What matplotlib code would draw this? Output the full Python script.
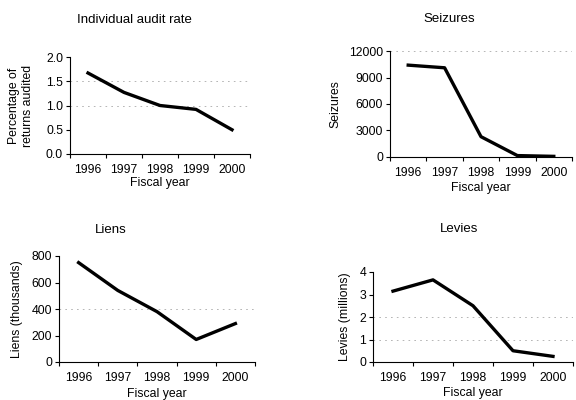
import matplotlib
matplotlib.use("Agg")
import matplotlib.pyplot as plt
import numpy as np

plt.rcParams['font.family'] = ['Liberation Sans', 'DejaVu Sans']

years = ["1996", "1997", "1998", "1999", "2000"]
audit_rate = [1.67, 1.27, 1.0, 0.92, 0.5]
seizures = [10400, 10100, 2300, 160, 74]
liens = [750, 540, 380, 170, 290]
levies = [3.15, 3.65, 2.5, 0.5, 0.25]


def draw_panel(fig, rect, values, yticks, ylabel, title, title_xy, ylabel_x,
               xlabel_y, grid_levels, ytick_fmt):
    ax = fig.add_axes(rect)
    x = np.arange(len(years))
    ax.plot(x, values, color='black', lw=2.4, solid_joinstyle='round')
    for g in grid_levels:
        ax.axhline(g, color='#aaaaaa', lw=0.6, ls=(0, (2, 5)), zorder=0)
    ax.set_xlim(-0.5, len(years) - 0.5)
    ax.set_ylim(yticks[0], yticks[-1])
    ax.set_xticks(x)
    ax.set_xticklabels(years)
    ax.set_xticks(np.arange(-0.5, len(years)), minor=True)
    ax.tick_params(axis='x', which='major', length=0, pad=7, labelsize=8.8)
    ax.tick_params(axis='x', which='minor', length=3, direction='out', width=0.8)
    ax.set_yticks(yticks)
    ax.set_yticklabels([ytick_fmt.format(v) for v in yticks])
    ax.tick_params(axis='y', length=3, direction='out', width=0.8, labelsize=8.8, pad=2)
    for s in ['top', 'right']:
        ax.spines[s].set_visible(False)
    for s in ['left', 'bottom']:
        ax.spines[s].set_linewidth(0.8)
    fig.text(title_xy[0] / 576, 1 - title_xy[1] / 400, title, ha='center', va='center', fontsize=9.5)
    fig.text(ylabel_x / 576, rect[1] + rect[3] / 2, ylabel, ha='center', va='center',
             rotation=90, fontsize=8.8, linespacing=1.15)
    fig.text(rect[0] + rect[2] / 2, 1 - xlabel_y / 400, "Fiscal year", ha='center', va='center', fontsize=8.8)
    return ax


fig = plt.figure(figsize=(5.76, 4), dpi=100)

draw_panel(fig, [70 / 576, 0.615, 180 / 576, 0.2425], audit_rate,
           [0.0, 0.5, 1.0, 1.5, 2.0], "Percentage of\nreturns audited",
           "Individual audit rate", (134, 20), 21, 183, [1.0, 1.5], "{:.1f}")

draw_panel(fig, [390 / 576, 0.6075, 182 / 576, 0.265], seizures,
           [0, 3000, 6000, 9000, 12000], "Seizures",
           "Seizures", (449, 19), 335, 188, [12000], "{:d}")

draw_panel(fig, [59 / 576, 0.095, 196 / 576, 0.265], liens,
           [0, 200, 400, 600, 800], "Liens (thousands)",
           "Liens", (111, 230), 17, 394, [400], "{:d}")

draw_panel(fig, [373 / 576, 0.095, 200 / 576, 0.225], levies,
           [0, 1, 2, 3, 4], "Levies (millions)",
           "Levies", (459, 229), 345, 393, [1, 2], "{:d}")

fig.savefig("out.png", dpi=100)
